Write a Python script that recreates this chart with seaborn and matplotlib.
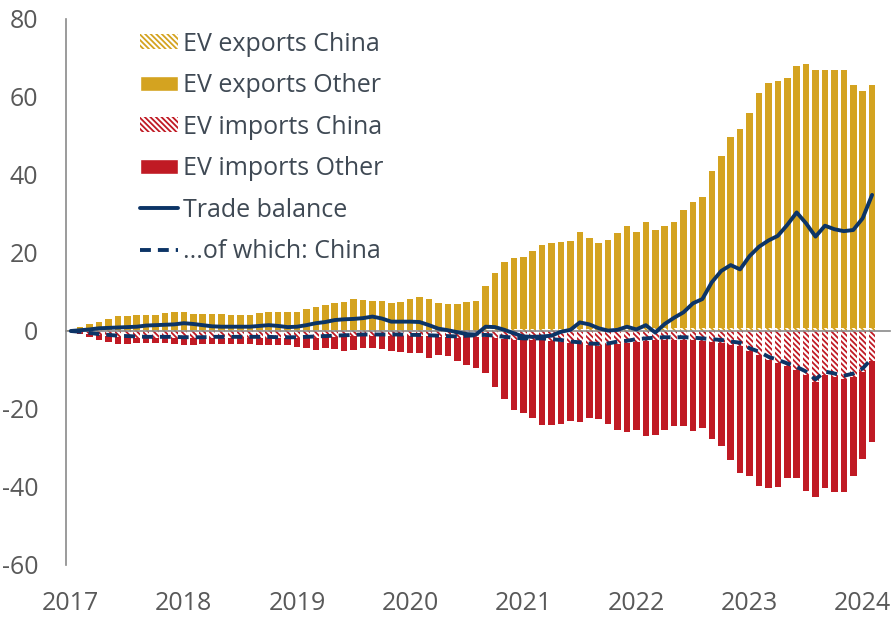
import numpy as np
import pandas as pd
import matplotlib
matplotlib.use("Agg")
import matplotlib.pyplot as plt
from matplotlib.patches import Patch
from matplotlib.lines import Line2D
import seaborn as sns

# ==================== Data (EUR bn, monthly, Jan 2017 - Feb 2024) ====================
YEARS = [2017, 2018, 2019, 2020, 2021, 2022, 2023, 2024]

exports_total = [
    0.3, 1.0, 1.8, 2.3, 3.2, 3.8, 3.8, 4.2, 4.2, 4.2, 4.6, 5.0,
    4.8, 4.4, 4.4, 4.4, 4.4, 4.2, 4.2, 4.2, 4.6, 4.8, 5.0, 5.0,
    5.0, 5.6, 6.2, 6.6, 7.1, 7.4, 8.1, 7.9, 7.8, 7.8, 7.1, 7.5,
    8.1, 8.8, 8.3, 7.1, 6.8, 6.8, 7.4, 7.8, 11.5, 15.0, 17.6, 18.8,
    19.0, 20.4, 22.0, 22.5, 22.8, 23.0, 25.4, 23.9, 22.6, 23.3, 25.2, 26.9,
    25.5, 27.9, 25.9, 26.9, 27.9, 30.9, 33.1, 34.4, 40.9, 45.0, 49.7, 51.9,
    55.9, 60.9, 63.5, 64.1, 64.8, 67.9, 68.5, 66.8, 67.0, 67.0, 66.8, 63.1,
    61.6, 63.1,
]

exports_china = [
    0.1, 0.2, 0.2, 0.3, 0.3, 0.3, 0.3, 0.3, 0.3, 0.3, 0.3, 0.3,
    0.3, 0.3, 0.3, 0.3, 0.3, 0.3, 0.3, 0.3, 0.3, 0.3, 0.3, 0.3,
    0.3, 0.3, 0.3, 0.3, 0.3, 0.3, 0.3, 0.3, 0.3, 0.3, 0.3, 0.3,
    0.3, 0.3, 0.3, 0.3, 0.3, 0.3, 0.3, 0.3, 0.4, 0.5, 0.5, 0.5,
    0.5, 0.5, 0.5, 0.6, 0.6, 0.6, 0.6, 0.6, 0.6, 0.6, 0.7, 0.7,
    0.7, 0.7, 0.7, 0.7, 0.7, 0.7, 0.7, 0.7, 0.7, 0.8, 0.8, 0.8,
    0.8, 0.8, 0.8, 0.8, 0.8, 0.8, 0.8, 0.8, 0.8, 0.8, 0.8, 0.8,
    0.8, 0.8,
]

imports_total = [
    -0.3, -0.8, -1.5, -2.4, -2.8, -3.3, -3.3, -3.2, -3.0, -3.2, -3.2, -3.4,
    -3.5, -3.7, -3.4, -3.4, -3.4, -3.3, -3.3, -3.4, -3.6, -3.6, -3.5, -3.6,
    -4.0, -4.4, -4.9, -4.4, -4.6, -5.0, -4.9, -4.4, -4.4, -4.7, -5.0, -5.3,
    -5.6, -5.7, -7.0, -6.2, -6.4, -7.6, -8.7, -9.6, -10.7, -14.3, -17.5, -20.3,
    -20.9, -22.4, -24.0, -24.0, -23.8, -23.2, -23.4, -22.4, -22.5, -23.8, -25.4, -26.0,
    -25.5, -26.8, -26.7, -25.4, -24.3, -24.3, -25.6, -24.8, -27.6, -29.6, -33.1, -36.5,
    -37.1, -39.7, -40.3, -39.9, -37.8, -37.6, -40.9, -42.5, -40.2, -41.2, -41.4, -37.2,
    -32.8, -28.4,
]

imports_china = [
    -0.2, -0.4, -0.8, -1.1, -1.3, -1.5, -1.6, -1.7, -1.8, -1.8, -1.8, -1.8,
    -1.9, -1.9, -1.9, -1.8, -1.8, -1.8, -1.8, -1.8, -1.8, -1.8, -1.9, -1.9,
    -1.9, -1.8, -1.7, -1.6, -1.5, -1.4, -1.3, -1.2, -1.2, -1.2, -1.2, -1.2,
    -1.3, -1.3, -1.4, -1.5, -1.6, -1.7, -1.6, -1.5, -1.5, -1.7, -2.0, -2.2,
    -2.4, -2.4, -2.4, -2.6, -2.8, -3.2, -3.4, -3.7, -3.8, -3.7, -3.3, -3.1,
    -2.8, -2.6, -2.4, -2.3, -2.3, -2.3, -2.4, -2.6, -2.8, -3.1, -3.5, -3.8,
    -5.2, -6.1, -7.4, -8.2, -9.1, -10.0, -11.2, -13.2, -11.2, -11.7, -12.3, -11.7,
    -10.4, -7.8,
]

trade_balance = [
    0.0, 0.2, 0.4, 0.7, 0.8, 0.9, 1.0, 1.1, 1.4, 1.5, 1.6, 1.7,
    2.0, 1.8, 1.5, 1.2, 1.1, 1.1, 1.1, 1.1, 1.3, 1.5, 1.3, 1.0,
    1.1, 1.5, 2.0, 2.3, 2.8, 3.0, 3.1, 3.3, 3.7, 3.2, 2.4, 2.4,
    2.4, 2.3, 1.5, 0.6, 0.2, -0.3, -0.8, -0.9, 1.1, 1.0, 0.3, -0.6,
    -1.4, -1.5, -1.4, -1.2, -0.2, 0.3, 2.2, 1.7, 0.7, 0.1, 0.3, 1.1,
    0.4, 1.5, -0.4, 1.8, 3.4, 4.8, 7.1, 8.2, 12.5, 15.4, 16.9, 15.8,
    19.2, 21.6, 23.2, 24.4, 27.2, 30.4, 27.6, 24.2, 27.0, 26.1, 25.6, 25.9,
    28.9, 34.9,
]

balance_china = [
    0.0, -0.2, -0.5, -0.8, -1.0, -1.2, -1.3, -1.4, -1.5, -1.5, -1.5, -1.5,
    -1.6, -1.6, -1.6, -1.5, -1.5, -1.5, -1.5, -1.5, -1.5, -1.5, -1.6, -1.6,
    -1.6, -1.5, -1.4, -1.3, -1.2, -1.1, -1.0, -0.9, -0.9, -0.9, -0.9, -0.9,
    -1.0, -1.0, -1.1, -1.2, -1.3, -1.4, -1.2, -1.1, -1.0, -1.2, -1.5, -1.7,
    -1.9, -1.9, -1.9, -2.1, -2.3, -2.7, -2.9, -3.2, -3.3, -3.2, -2.7, -2.5,
    -2.1, -1.9, -1.7, -1.6, -1.6, -1.6, -1.7, -1.9, -2.1, -2.3, -2.7, -3.0,
    -4.4, -5.3, -6.6, -7.4, -8.3, -9.2, -10.4, -12.4, -10.4, -10.9, -11.5, -10.9,
    -9.6, -7.0,
]

df = pd.DataFrame({
    "month": np.arange(len(exports_total)),
    "exports_total": exports_total,
    "exports_china": exports_china,
    "imports_total": imports_total,
    "imports_china": imports_china,
    "trade_balance": trade_balance,
    "balance_china": balance_china,
})

# ==================== Style ====================
GOLD = "#D4A320"
RED = "#C01A24"
NAVY = "#0C3466"
GREY_TXT = "#595959"
GREY_AX = "#8A8A8A"
HATCH = "\\\\\\\\\\\\"

sns.set_style("white")
plt.rcParams["font.family"] = ["Open Sans", "DejaVu Sans"]
plt.rcParams["axes.unicode_minus"] = False
plt.rcParams["hatch.linewidth"] = 1.3

fig = plt.figure(figsize=(8.95, 6.18), dpi=100)
ax = fig.add_axes([66 / 895, 1 - 565 / 618, (890 - 66) / 895, (565 - 19) / 618])

bar_kw = dict(width=0.7, saturation=1, errorbar=None, linewidth=0, ax=ax)

# solid totals first, then the China part hatched on top of them
sns.barplot(data=df, x="month", y="exports_total", color=GOLD, zorder=2, **bar_kw)
sns.barplot(data=df, x="month", y="imports_total", color=RED, zorder=2, **bar_kw)
sns.barplot(data=df, x="month", y="exports_china", color="white", edgecolor=GOLD,
            hatch=HATCH, zorder=3, **bar_kw)
sns.barplot(data=df, x="month", y="imports_china", color="white", edgecolor=RED,
            hatch=HATCH, zorder=3, **bar_kw)

sns.lineplot(data=df, x="month", y="trade_balance", color=NAVY, lw=2.8, ax=ax, zorder=5)
sns.lineplot(data=df, x="month", y="balance_china", color=NAVY, lw=2.8, ax=ax, zorder=5,
             linestyle=(0, (2.8, 1.8)))

ax.set_ylim(-60, 80)
ax.set_xlim(-0.5, 86.9)
ax.set_yticks(np.arange(-60, 81, 20))
ax.set_xlabel("")
ax.set_ylabel("")

for s in ["top", "right"]:
    ax.spines[s].set_visible(False)
ax.spines["left"].set_color(GREY_AX)
ax.spines["left"].set_linewidth(1.2)
ax.spines["bottom"].set_position(("data", 0))
ax.spines["bottom"].set_color(GREY_AX)
ax.spines["bottom"].set_linewidth(1.2)
ax.spines["bottom"].set_zorder(4)

year_starts = [12 * k for k in range(len(YEARS))]
ax.set_xticks([p - 0.5 for p in year_starts])
ax.tick_params(axis="x", which="both", direction="out", length=6, width=1.2,
               color=GREY_AX, labelbottom=False)
ax.tick_params(axis="y", direction="out", length=7, width=1.2, color=GREY_AX,
               labelsize=18, labelcolor=GREY_TXT, pad=13)

sec = ax.secondary_xaxis("bottom")
sec.set_xticks(year_starts, [str(y) for y in YEARS])
sec.spines["bottom"].set_visible(False)
sec.tick_params(axis="x", length=0, labelsize=18, labelcolor=GREY_TXT, pad=19)

handles = [
    Patch(facecolor="white", edgecolor=GOLD, hatch=HATCH, linewidth=0, label="EV exports China"),
    Patch(facecolor=GOLD, label="EV exports Other"),
    Patch(facecolor="white", edgecolor=RED, hatch=HATCH, linewidth=0, label="EV imports China"),
    Patch(facecolor=RED, label="EV imports Other"),
    Line2D([], [], color=NAVY, lw=2.8, label="Trade balance"),
    Line2D([], [], color=NAVY, lw=2.8, linestyle=(0, (2.8, 1.8)), label="...of which: China"),
]
leg = ax.legend(handles=handles, loc="upper left", bbox_to_anchor=(0.0898, 0.977),
                frameon=False, fontsize=18, handlelength=1.52, handleheight=0.56,
                handletextpad=0.2, labelspacing=0.66, borderaxespad=0, borderpad=0)
for t in leg.get_texts():
    t.set_color("#3F4954")

fig.savefig("out.png", dpi=100)
